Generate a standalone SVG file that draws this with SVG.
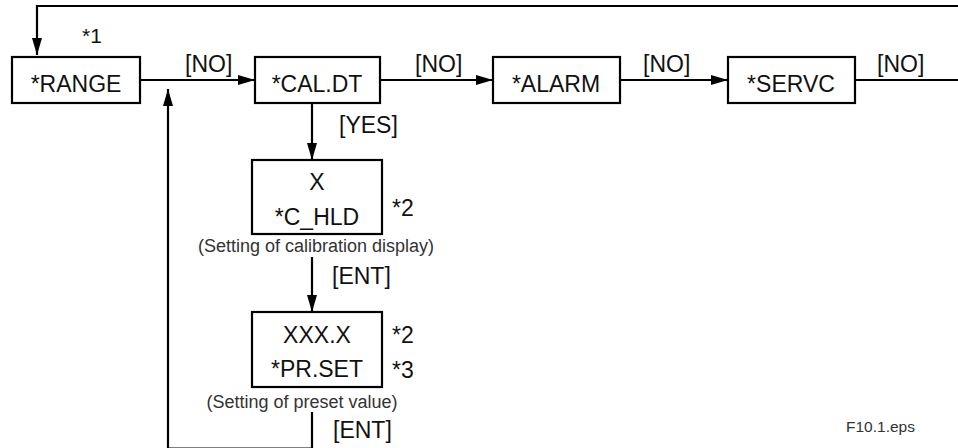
<svg xmlns="http://www.w3.org/2000/svg" width="958" height="448" viewBox="0 0 958 448">
<defs>
<marker id="ah" markerUnits="userSpaceOnUse" markerWidth="18" markerHeight="12" refX="17" refY="5" orient="auto">
<path d="M0,0 L17,5 L0,10 Z" fill="#000"/>
</marker>
<style>
.box{fill:#fff;stroke:#000;stroke-width:2.2}
.ln{fill:none;stroke:#000;stroke-width:2.2}
.t{font-family:"Liberation Sans",Arial,sans-serif;font-size:23px;fill:#111}
.s{font-family:"Liberation Sans",Arial,sans-serif;font-size:18px;fill:#333}
.c{text-anchor:middle}
</style>
</defs>
<rect width="958" height="448" fill="#fff"/>
<g id="connectors">
<polyline class="ln" points="958,6 37,6 37,55" marker-end="url(#ah)"/>
<line class="ln" x1="140" y1="80" x2="255" y2="80" marker-end="url(#ah)"/>
<line class="ln" x1="380" y1="80" x2="493" y2="80" marker-end="url(#ah)"/>
<line class="ln" x1="620" y1="80" x2="728" y2="80" marker-end="url(#ah)"/>
<line class="ln" x1="855" y1="80" x2="958" y2="80"/>
<line class="ln" x1="312" y1="103" x2="312" y2="160" marker-end="url(#ah)"/>
<line class="ln" x1="312" y1="257" x2="312" y2="312" marker-end="url(#ah)"/>
<polyline class="ln" points="312,412 312,448.6 168,448.6 168,89" marker-end="url(#ah)"/>
<text class="t" x="185" y="72">[NO]</text>
<text class="t" x="415" y="72">[NO]</text>
<text class="t" x="643" y="72">[NO]</text>
<text class="t" x="877" y="72">[NO]</text>
<text class="t" x="339" y="133">[YES]</text>
<text class="t" x="332" y="284">[ENT]</text>
<text class="t" x="333" y="438">[ENT]</text>
</g>
<g id="range">
<rect class="box" x="12" y="57" width="128" height="46"/>
<text class="t c" x="76" y="92">*RANGE</text>
<text class="t" x="82" y="43" style="font-size:21px">*1</text>
</g>
<g id="caldt">
<rect class="box" x="255" y="57" width="125" height="46"/>
<text class="t c" x="317" y="92">*CAL.DT</text>
</g>
<g id="alarm">
<rect class="box" x="493" y="57" width="127" height="46"/>
<text class="t c" x="556" y="92">*ALARM</text>
</g>
<g id="servc">
<rect class="box" x="728" y="57" width="127" height="46"/>
<text class="t c" x="791" y="92">*SERVC</text>
</g>
<g id="chld">
<rect class="box" x="252" y="160" width="130" height="74"/>
<text class="t c" x="317" y="190">X</text>
<text class="t c" x="317" y="225">*C_HLD</text>
<text class="t" x="392" y="216">*2</text>
<text class="s c" x="316" y="252">(Setting of calibration display)</text>
</g>
<g id="prset">
<rect class="box" x="252" y="312" width="130" height="75"/>
<text class="t c" x="317" y="343">XXX.X</text>
<text class="t c" x="317" y="377">*PR.SET</text>
<text class="t" x="392" y="343">*2</text>
<text class="t" x="392" y="378">*3</text>
<text class="s c" x="302" y="408">(Setting of preset value)</text>
</g>
<text class="s" x="846" y="432" style="font-size:15.5px">F10.1.eps</text>
</svg>
